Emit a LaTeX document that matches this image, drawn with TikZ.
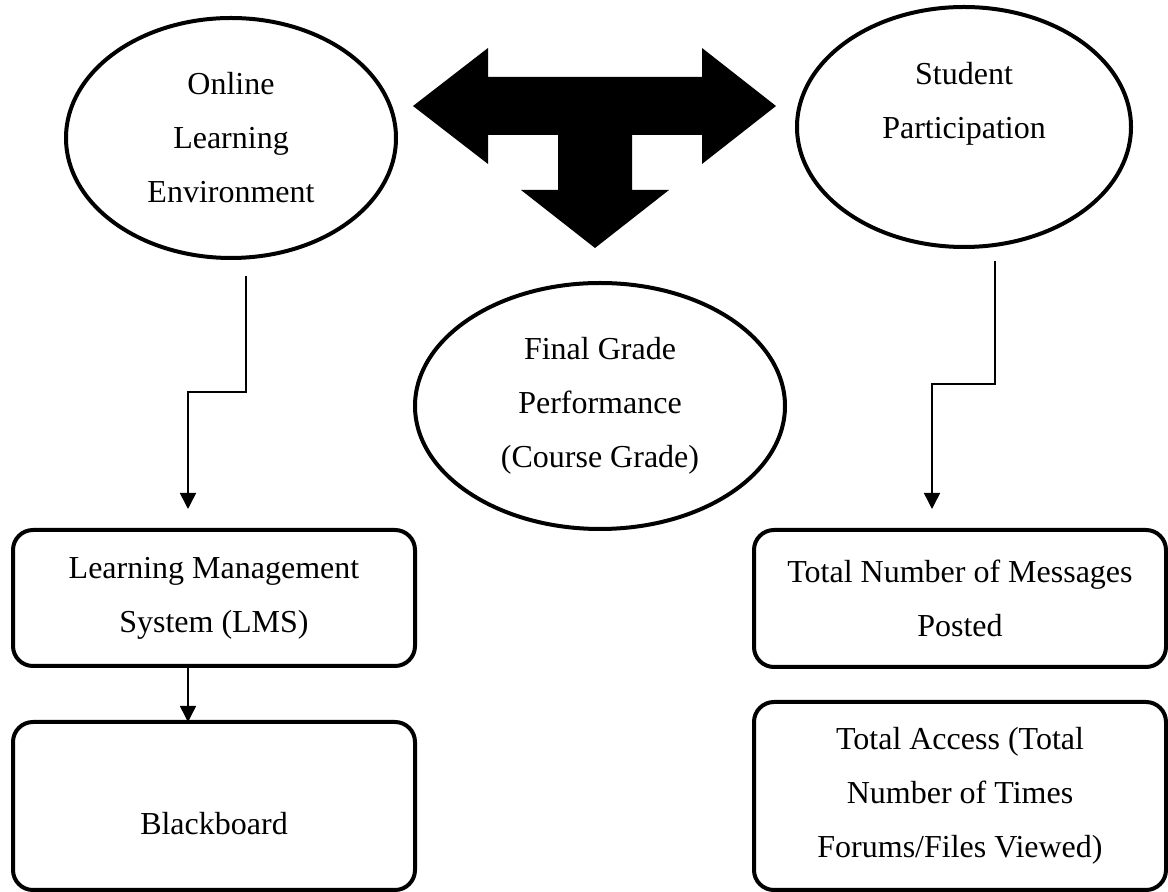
\documentclass[tikz,border=0pt]{standalone}
\usepackage{fontspec}
\setmainfont{Liberation Serif}
\usetikzlibrary{shapes.geometric, arrows.meta, positioning}
\tikzstyle{oval}=[draw,ellipse,line width=4pt,inner sep=0pt,outer sep=0pt,align=center]
\tikzstyle{block}=[draw,rectangle,rounded corners=20pt,line width=4pt,inner sep=0pt,outer sep=0pt,align=center]
\tikzstyle{link}=[->,line width=1.5pt]
\tikzstyle{every node}=[font=\fontsize{32pt}{54pt}\selectfont]

\begin{document}
\begin{tikzpicture}[auto,x=1pt,y=1pt,>={Triangle[width=16pt,length=16pt]}]
  \useasboundingbox (0,0) rectangle (1168,892);
  % ovals
  \node[oval, minimum width=330pt, minimum height=240pt] (env) at (231,754) {Online\\Learning\\Environment};
  \node[oval, minimum width=334pt, minimum height=240pt] (part) at (964,765) {Student\\Participation\\\mbox{}};
  \node[oval, minimum width=370pt, minimum height=246pt] (grade) at (600,486) {Final Grade\\Performance\\(Course Grade)};
  % boxes
  \node[block, minimum width=402pt, minimum height=136pt] (lms) at (214,294) {Learning Management\\System (LMS)};
  \node[block, minimum width=402pt, minimum height=168pt, below=56pt of lms, label={[yshift=-18pt]center:Blackboard}] (bb) {};
  \node[block, minimum width=412pt, minimum height=137pt] (msgs) at (960,293.5) {Total Number of Messages\\Posted};
  \node[block, minimum width=412pt, minimum height=188pt, below=35pt of msgs] (access) {Total Access (Total\\Number of Times\\Forums/Files Viewed)};
  % T-shaped double arrow
  \fill (413,786) -- (488,844) -- (488,815) -- (702,815) -- (702,844) -- (776,786)
    -- (702,728) -- (702,757) -- (632,757) -- (632,702) -- (669,702) -- (595,644)
    -- (521,702) -- (558,702) -- (558,757) -- (488,757) -- (488,728) -- cycle;
  % connectors
  \coordinate (envout) at ([shift={(15,-18)}]env.south);
  \coordinate (lmsin) at ([shift={(-26,21)}]lms.north);
  \coordinate (partout) at ([shift={(31,-14)}]part.south);
  \coordinate (msgsin) at ([shift={(-28,21)}]msgs.north);
  \draw[link] (envout) -- ++(0,-116) -| (lmsin);
  \draw[link] (partout) -- ++(0,-123) -| (msgsin);
  \draw[link] ([xshift=-26pt]lms.south) -- ([xshift=-26pt]bb.north);
\end{tikzpicture}
\end{document}
